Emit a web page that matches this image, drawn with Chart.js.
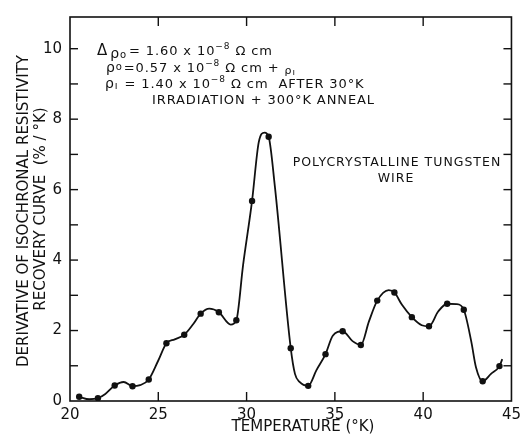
<!DOCTYPE html>
<html>
<head>
<meta charset="utf-8">
<script src="https://cdn.jsdelivr.net/npm/chart.js@4.4.0/dist/chart.umd.min.js"></script>
<style>
  html, body { margin: 0; padding: 0; background: #fff; }
  #wrap { width: 526px; height: 437px; }
</style>
</head>
<body>
<div id="wrap"><canvas id="chart" width="526" height="437"></canvas></div>
<script>
// measured points (temperature in K, derivative in %/K)
const pointTemps = [20.52, 21.58, 22.53, 23.54, 24.46, 25.46, 26.47, 27.4, 28.43, 29.42,
  30.31, 31.25, 32.5, 33.49, 34.47, 35.44, 36.47, 37.4, 38.37, 39.36,
  40.33, 41.36, 42.3, 43.37, 44.32];
const pointRates = [0.12, 0.08, 0.44, 0.42, 0.61, 1.64, 1.88, 2.48, 2.52, 2.29,
  5.68, 7.5, 1.5, 0.43, 1.33, 1.98, 1.59, 2.85, 3.08, 2.38,
  2.12, 2.76, 2.59, 0.56, 0.99];

// hand drawn curve
const curveTemps = [20.52, 21.09, 21.58, 22.0, 22.53, 23.04, 23.54, 23.97, 24.46, 25.0,
  25.46, 25.93, 26.47, 26.96, 27.4, 27.89, 28.43, 29.1, 29.42, 29.8,
  30.31, 30.69, 31.02, 31.25, 31.6, 32.5, 32.74,
  33.0, 33.49, 33.95, 34.47, 34.88, 35.44, 36.0, 36.47, 36.93, 37.4,
  38.05, 38.37, 38.8, 39.36, 39.92, 40.33, 40.85, 41.36, 41.88, 42.3,
  42.72, 42.99, 43.37, 43.84, 44.32, 44.48];
const curveRates = [0.12, 0.05, 0.08, 0.2, 0.44, 0.54, 0.42, 0.45, 0.61, 1.15,
  1.64, 1.75, 1.88, 2.17, 2.48, 2.62, 2.52, 2.17, 2.29, 3.85,
  5.68, 7.35, 7.62, 7.5, 6.1, 1.5, 0.77,
  0.54, 0.43, 0.87, 1.33, 1.85, 1.98, 1.7, 1.59, 2.26, 2.85,
  3.15, 3.08, 2.73, 2.38, 2.15, 2.12, 2.54, 2.76, 2.75, 2.59,
  1.7, 0.96, 0.56, 0.77, 0.99, 1.19];

const xTicks = [20, 25, 30, 35, 40, 45];
const yTicks = [0, 2, 4, 6, 8, 10];
const yMinorTicks = [1, 2, 3, 4, 5, 6, 7, 8, 9, 10];

const FONT = '"DejaVu Sans", sans-serif';

function rich(ctx, x, y, parts) {
  parts.forEach(p => {
    ctx.font = (p.s || 13) + 'px ' + FONT;
    ctx.fillText(p.t, x + (p.dx || 0), y + (p.dy || 0));
    x += (p.dx || 0) + ctx.measureText(p.t).width;
  });
}

const frameAndTicks = {
  id: 'frameAndTicks',
  afterDatasetsDraw(chart) {
    const { ctx, chartArea: a, scales: { x, y } } = chart;
    const seg = (x1, y1, x2, y2) => { ctx.beginPath(); ctx.moveTo(x1, y1); ctx.lineTo(x2, y2); ctx.stroke(); };
    ctx.save();
    ctx.strokeStyle = '#111';
    ctx.lineWidth = 1.6;
    ctx.strokeRect(a.left, a.top, a.right - a.left, a.bottom - a.top);
    ctx.lineWidth = 1.4;
    xTicks.slice(1, -1).forEach(v => {
      const px = x.getPixelForValue(v);
      seg(px, a.bottom, px, a.bottom - 9);
      seg(px, a.top, px, a.top + 9);
    });
    yMinorTicks.forEach(v => {
      const py = y.getPixelForValue(v);
      seg(a.left, py, a.left + 8, py);
      seg(a.right, py, a.right - 8, py);
    });
    ctx.restore();
  },
  afterDraw(chart) {
    const { ctx } = chart;
    ctx.save();
    ctx.fillStyle = '#111';
    ctx.textBaseline = 'alphabetic';
    ctx.letterSpacing = '0.9px';

    rich(ctx, 97, 55, [{ t: 'Δ', s: 15 }, { t: 'ρ', s: 14, dx: 2, dy: 3 }, { t: 'o', s: 10, dy: 3 },
      { t: '= 1.60 x 10', dx: 2 }, { t: '−8', s: 9, dy: -6 }, { t: ' Ω cm' }]);
    rich(ctx, 106, 72, [{ t: 'ρ', s: 14 }, { t: 'o', s: 10, dy: -2 },
      { t: '=0.57 x 10', dx: 1 }, { t: '−8', s: 9, dy: -6 }, { t: ' Ω cm + ' }, { t: 'ρ', s: 11, dy: 2 }, { t: 'ı', s: 9, dy: 3 }]);
    rich(ctx, 105, 88, [{ t: 'ρ', s: 14 }, { t: 'ı', s: 10, dy: 1 },
      { t: ' = 1.40 x 10', dx: 1 }, { t: '−8', s: 9, dy: -6 }, { t: ' Ω cm  AFTER 30°K' }]);
    rich(ctx, 152, 104, [{ t: 'IRRADIATION + 300°K ANNEAL' }]);

    ctx.textAlign = 'center';
    ctx.font = '12.5px ' + FONT;
    ctx.letterSpacing = '1px';
    ctx.fillText('POLYCRYSTALLINE TUNGSTEN', 397, 166);
    ctx.fillText('WIRE', 396, 182);

    ctx.letterSpacing = '0px';
    ctx.font = '15px ' + FONT;
    ctx.fillText('TEMPERATURE (°K)', 303, 431);

    ctx.textBaseline = 'middle';
    ctx.save();
    ctx.translate(24, 211);
    ctx.rotate(-Math.PI / 2);
    ctx.fillText('DERIVATIVE OF ISOCHRONAL RESISTIVITY', 0, 0);
    ctx.restore();
    ctx.save();
    ctx.translate(41, 209);
    ctx.rotate(-Math.PI / 2);
    ctx.fillText('RECOVERY CURVE  (% / °K)', 0, 0);
    ctx.restore();
    ctx.restore();
  }
};

new Chart(document.getElementById('chart'), {
  type: 'scatter',
  data: {
    datasets: [
      {
        label: 'curve',
        data: curveTemps.map((t, i) => ({ x: t, y: curveRates[i] })),
        showLine: true,
        pointRadius: 0,
        borderColor: '#111',
        borderWidth: 1.8,
        cubicInterpolationMode: 'monotone'
      },
      {
        label: 'measured',
        data: pointTemps.map((t, i) => ({ x: t, y: pointRates[i] })),
        showLine: false,
        pointRadius: 3.2,
        pointBackgroundColor: '#111',
        pointBorderColor: '#111',
        pointBorderWidth: 0
      }
    ]
  },
  options: {
    responsive: false,
    animation: false,
    layout: { padding: { top: 10, right: 10, left: 0, bottom: 0 } },
    plugins: { legend: { display: false }, tooltip: { enabled: false } },
    scales: {
      x: {
        type: 'linear',
        min: 20,
        max: 45,
        afterBuildTicks: s => { s.ticks = xTicks.map(v => ({ value: v })); },
        afterFit: s => { s.height = 36; },
        grid: { display: false, drawTicks: false },
        border: { display: false },
        ticks: { color: '#111', padding: 5, font: { family: FONT, size: 15 } }
      },
      y: {
        min: 0,
        max: 10.9,
        afterBuildTicks: s => { s.ticks = yTicks.map(v => ({ value: v })); },
        afterFit: s => { s.width = 70; },
        grid: { display: false, drawTicks: false },
        border: { display: false },
        ticks: { color: '#111', padding: 8, font: { family: FONT, size: 15 } }
      }
    }
  },
  plugins: [frameAndTicks]
});
</script>
</body>
</html>
